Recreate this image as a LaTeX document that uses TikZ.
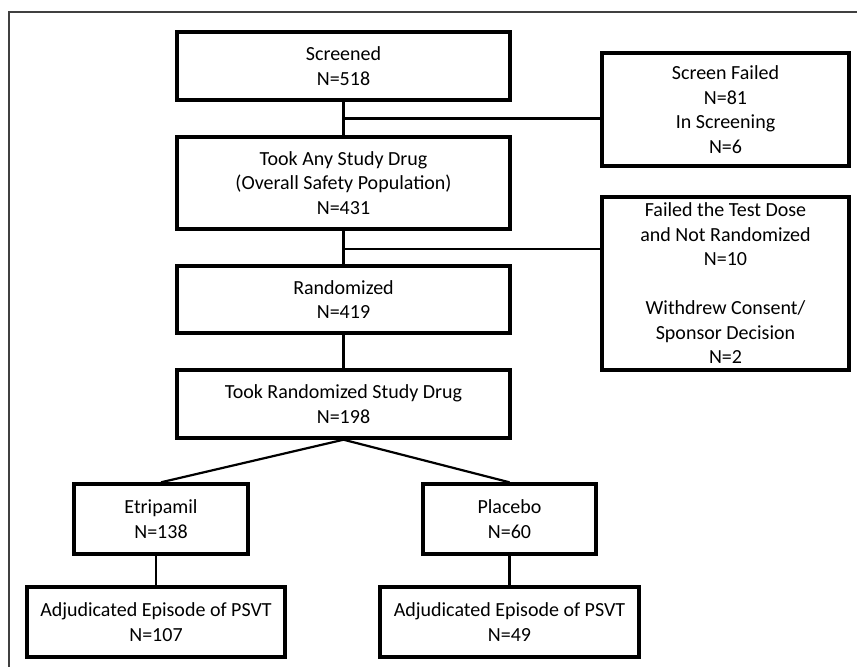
\documentclass[tikz,border=0pt]{standalone}
\usepackage{fontspec}
\setmainfont{Carlito}
\usetikzlibrary{positioning,calc}
\tikzset{
  stagebox/.style={draw,line width=3.4pt,align=center,inner sep=0pt,
                   font=\fontsize{20}{24.5}\selectfont},
  link/.style={line width=2.2pt}
}

\begin{document}
\begin{tikzpicture}[x=1pt,y=-1pt]
\useasboundingbox (0,0) rectangle (857,667);
% Frame of the figure, cut at right and bottom
\draw[line width=1.6pt,black!75] (857,12) -- (9,12) -- (9,667);
% Main column of boxes
\node[stagebox,minimum width=333pt,minimum height=68pt] (screened) at (343.5,66)
  {Screened\\N=518};
\node[stagebox,minimum width=333pt,minimum height=92pt] (anydrug) at (343.5,183)
  {Took Any Study Drug\\(Overall Safety Population)\\N=431};
\node[stagebox,minimum width=333pt,minimum height=67pt] (random) at (343.5,299.5)
  {Randomized\\N=419};
\node[stagebox,minimum width=333pt,minimum height=68pt] (randdrug) at (343.5,404)
  {Took Randomized Study Drug\\N=198};
% Side boxes for those who left
\node[stagebox,minimum width=247pt,minimum height=113pt] (scrfail) at (725.5,109.5)
  {Screen Failed\\N=81\\In Screening\\N=6};
\node[stagebox,minimum width=247pt,minimum height=173pt] (dosefail) at (725.5,283.5)
  {Failed the Test Dose\\and Not Randomized\\N=10\\[24.5pt]Withdrew Consent/\\Sponsor Decision\\N=2};
% Treatment arms
\node[stagebox,minimum width=174pt,minimum height=70pt] (etri) at (161,519)
  {Etripamil\\N=138};
\node[stagebox,minimum width=173pt,minimum height=70pt] (placebo) at (509.5,519)
  {Placebo\\N=60};
\node[stagebox,minimum width=258pt,minimum height=70pt] (adjetri) at (156,622)
  {Adjudicated Episode of PSVT\\N=107};
\node[stagebox,minimum width=259pt,minimum height=70pt] (adjplac) at (509.5,622)
  {Adjudicated Episode of PSVT\\N=49};
% Connectors down the column
\draw[link] (screened.south) -- (anydrug.north);
\draw[link] (anydrug.south) -- (random.north);
\draw[link] (random.south) -- (randdrug.north);
% Branches out to the side boxes
\coordinate (out1) at ($(screened.south)!0.5!(anydrug.north)$);
\draw[link] (out1) -- (out1 -| scrfail.west);
\coordinate (out2) at ($(anydrug.south)!0.55!(random.north)$);
\draw[link] (out2) -- (out2 -| dosefail.west);
% Split into the two arms
\draw[link] (etri.north) -- (randdrug.south) -- (placebo.north);
\draw[link] (adjetri.north) -- (adjetri.north |- etri.south);
\draw[link] (adjplac.north) -- (adjplac.north |- placebo.south);
\end{tikzpicture}
\end{document}
